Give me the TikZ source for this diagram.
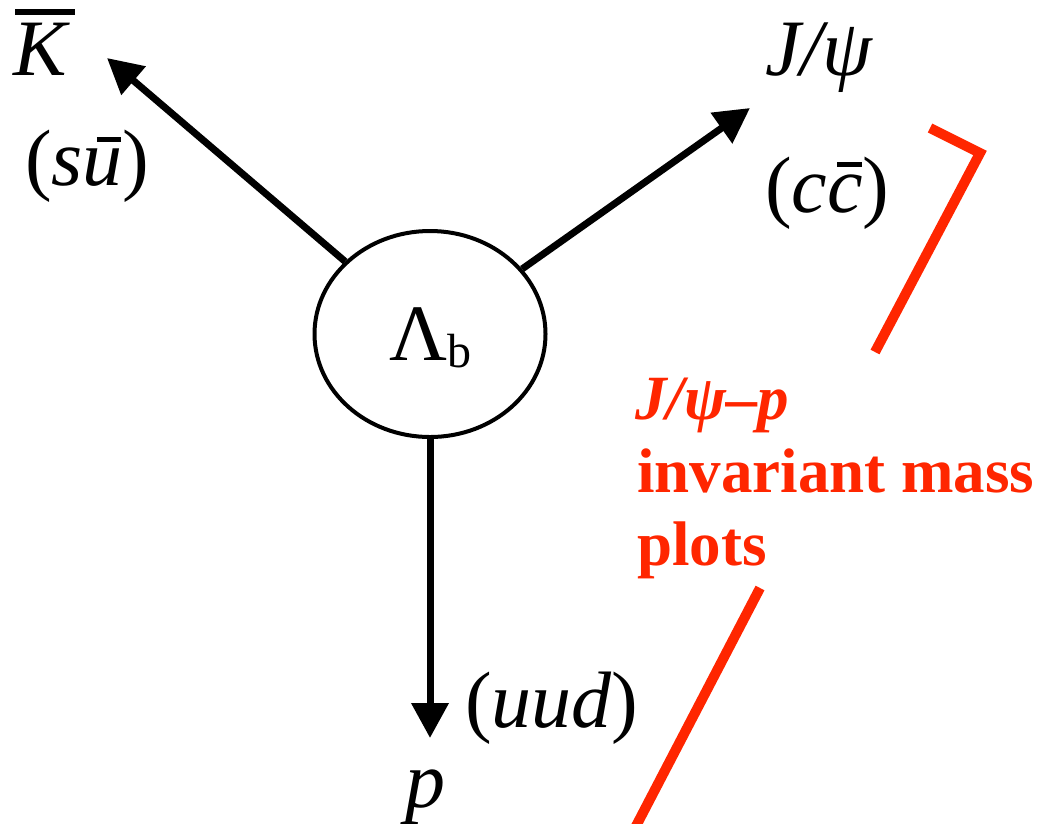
\documentclass[tikz,border=0pt]{standalone}
\usepackage{fontspec}
\setmainfont{LiberationSerif}[Extension=.ttf, UprightFont=*-Regular, BoldFont=*-Bold, ItalicFont=*-Italic, BoldItalicFont=*-BoldItalic]
\usetikzlibrary{arrows.meta,shapes.geometric}
\definecolor{hired}{RGB}{255,38,0}
% raise, shift, width, thickness, text
\newcommand\ovbar[5]{\leavevmode\setbox0=\hbox{#5}\rlap{\hspace*{#2}\raisebox{#1}{\rule{#3}{#4}}}\box0}
\begin{document}
\begin{tikzpicture}[x=1pt,y=-1pt,
  big/.style={font=\fontsize{80}{80}\selectfont, inner sep=0pt, anchor=base west},
  redtxt/.style={font=\fontsize{63}{63}\selectfont\bfseries, text=hired, inner sep=0pt, anchor=base west},
  decay/.style={line width=7pt, -{Triangle[length=35pt,width=36pt]}},
  redline/.style={hired, line width=10pt, line join=miter}]
\useasboundingbox (0,0) rectangle (1040,823);
% central ellipse
\node[draw, ellipse, line width=4pt, minimum width=231pt, minimum height=206pt, inner sep=0pt,
      font=\fontsize{80}{80}\selectfont] (lam) at (430,334)
      {Λ{\fontsize{48}{48}\selectfont\smash{\raisebox{-7pt}{b}}}};
% end points
\coordinate (ktip) at (107,58);
\coordinate (jtip) at (750,108);
\coordinate (ptip) at (430,738);
\draw[decay] (lam) -- (ktip);
\draw[decay] (lam) -- (jtip);
\draw[decay] (lam.south) -- (ptip);
% labels
\node[big] (kbar) at (13,75) {\itshape\ovbar{60pt}{2pt}{60pt}{6pt}{K}};
\node[big] (su) at (25,185) {(\itshape s\ovbar{43pt}{14pt}{24pt}{5pt}{u}\upshape)};
\node[big] (jpsi) at (765,75) {\itshape J/ψ};
\node[big] (cc) at (765,212) {(\itshape c\ovbar{45pt}{10pt}{25pt}{5pt}{c}\upshape)};
\node[big] (uud) at (465,727) {(\itshape uud\upshape)};
\node[big] (p) at (405,807) {\itshape p};
% red annotation
\coordinate (r1) at (930,128);
\coordinate (r2) at (980,153);
\coordinate (r3) at (875,352);
\coordinate (r4) at (760,588);
\coordinate (r5) at (635,828);
\draw[redline] (r1) -- (r2) -- (r3);
\draw[redline] (r4) -- (r5);
\node[redtxt] (t1) at (635,419) {\itshape J/ψ–p};
\node[redtxt] (t2) at (637,492) {invariant mass};
\node[redtxt] (t3) at (637,565) {plots};
\end{tikzpicture}
\end{document}
